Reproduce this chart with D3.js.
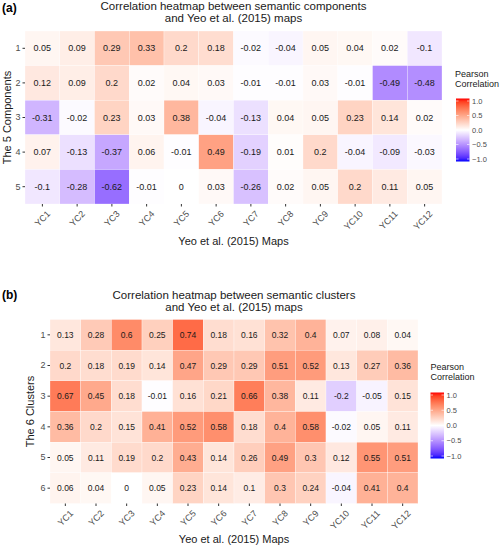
<!DOCTYPE html>
<html><head><meta charset="utf-8">
<script src="https://cdn.jsdelivr.net/npm/d3@7"></script>
<style>body{margin:0;background:#fff}svg{display:block;font-family:"Liberation Sans",Arial,sans-serif}</style>
</head><body>
<script>
const yeoMaps = ["YC1","YC2","YC3","YC4","YC5","YC6","YC7","YC8","YC9","YC10","YC11","YC12"];
const components = ["1","2","3","4","5"];
const clusters = ["1","2","3","4","5","6"];
const componentValues = [
  [0.05, 0.09, 0.29, 0.33, 0.2, 0.18, -0.02, -0.04, 0.05, 0.04, 0.02, -0.1],
  [0.12, 0.09, 0.2, 0.02, 0.04, 0.03, -0.01, -0.01, 0.03, -0.01, -0.49, -0.48],
  [-0.31, -0.02, 0.23, 0.03, 0.38, -0.04, -0.13, 0.04, 0.05, 0.23, 0.14, 0.02],
  [0.07, -0.13, -0.37, 0.06, -0.01, 0.49, -0.19, 0.01, 0.2, -0.04, -0.09, -0.03],
  [-0.1, -0.28, -0.62, -0.01, 0, 0.03, -0.26, 0.02, 0.05, 0.2, 0.11, 0.05]
];
const clusterValues = [
  [0.13, 0.28, 0.6, 0.25, 0.74, 0.18, 0.16, 0.32, 0.4, 0.07, 0.08, 0.04],
  [0.2, 0.18, 0.19, 0.14, 0.47, 0.29, 0.29, 0.51, 0.52, 0.13, 0.27, 0.36],
  [0.67, 0.45, 0.18, -0.01, 0.16, 0.21, 0.66, 0.38, 0.11, -0.2, -0.05, 0.15],
  [0.36, 0.2, 0.15, 0.41, 0.52, 0.58, 0.18, 0.4, 0.58, -0.02, 0.05, 0.11],
  [0.05, 0.11, 0.19, 0.2, 0.43, 0.14, 0.26, 0.49, 0.3, 0.12, 0.55, 0.51],
  [0.06, 0.04, 0, 0.05, 0.23, 0.14, 0.1, 0.3, 0.24, -0.04, 0.41, 0.4]
];
const legendTicks = [1.0, 0.5, 0.0, -0.5, -1.0];

const W = 500, H = 546;
const svg = d3.select("body").append("svg").attr("width", W).attr("height", H);
const color = d3.scaleLinear().domain([-1, 0, 1]).range(["blue", "white", "red"]).interpolate(d3.interpolateLab);

function panel(cfg) {
  const g = svg.append("g");
  const x = d3.scaleBand().domain(yeoMaps).range([cfg.x0, cfg.x1]);
  const y = d3.scaleBand().domain(cfg.rows).range([cfg.y0, cfg.y1]);
  const cells = [];
  cfg.values.forEach((row, i) => row.forEach((v, j) => cells.push({r: cfg.rows[i], c: yeoMaps[j], v})));
  g.selectAll("rect.cell").data(cells).enter().append("rect")
    .attr("x", d => x(d.c)).attr("y", d => y(d.r))
    .attr("width", x.bandwidth()).attr("height", y.bandwidth())
    .attr("fill", d => color(d.v)).attr("stroke", "#fff").attr("stroke-width", 0.3);
  g.selectAll("text.cell").data(cells).enter().append("text")
    .attr("x", d => x(d.c) + x.bandwidth() / 2).attr("y", d => y(d.r) + y.bandwidth() / 2)
    .attr("text-anchor", "middle").attr("dominant-baseline", "central")
    .attr("font-size", cfg.cellFont).attr("fill", "#1a1a1a").text(d => d.v);
  // y axis
  const ya = g.append("g").attr("transform", `translate(${cfg.x0},0)`)
    .call(d3.axisLeft(y).tickSize(2.5).tickPadding(2));
  ya.select(".domain").remove();
  ya.selectAll("line").attr("stroke", "#333");
  ya.selectAll("text").attr("font-size", 9).attr("fill", "#4d4d4d").attr("font-family", "Liberation Sans, Arial, sans-serif");
  // x axis
  const xa = g.append("g").attr("transform", `translate(0,${cfg.y1})`)
    .call(d3.axisBottom(x).tickSize(2.5).tickPadding(2));
  xa.select(".domain").remove();
  xa.selectAll("line").attr("stroke", "#333");
  xa.selectAll("text").attr("font-size", 9).attr("fill", "#4d4d4d").attr("font-family", "Liberation Sans, Arial, sans-serif")
    .attr("text-anchor", "end").attr("dy", null).attr("y", 0)
    .attr("transform", "translate(4,6) rotate(-45)").attr("dominant-baseline", "hanging");
  // titles
  const cx = (cfg.x0 + cfg.x1) / 2;
  g.append("text").attr("x", cx).attr("y", cfg.titleY).attr("text-anchor", "middle").attr("font-size", 11.5).attr("fill", "#1a1a1a").text(cfg.title1);
  g.append("text").attr("x", cx).attr("y", cfg.titleY + 11.5).attr("text-anchor", "middle").attr("font-size", 11.5).attr("fill", "#1a1a1a").text(cfg.title2);
  g.append("text").attr("x", 2).attr("y", cfg.labelY).attr("font-size", 12).attr("font-weight", "bold").text(cfg.label);
  g.append("text").attr("x", cx).attr("y", cfg.xTitleY).attr("text-anchor", "middle").attr("font-size", 11).attr("fill", "#1a1a1a").text("Yeo et al. (2015) Maps");
  g.append("text").attr("transform", `translate(${cfg.yTitleX},${(cfg.y0 + cfg.y1) / 2}) rotate(-90)`)
    .attr("text-anchor", "middle").attr("font-size", 11).attr("fill", "#1a1a1a").text(cfg.yTitle);
  // legend
  const lg = g.append("g");
  lg.append("text").attr("x", cfg.lx).attr("y", cfg.ly).attr("font-size", 9).attr("fill", "#1a1a1a").text("Pearson");
  lg.append("text").attr("x", cfg.lx).attr("y", cfg.ly + 10.5).attr("font-size", 9).attr("fill", "#1a1a1a").text("Correlation");
  const gid = "grad" + cfg.label.replace(/\W/g, "");
  const grad = svg.append("defs").append("linearGradient").attr("id", gid).attr("x1", 0).attr("y1", 1).attr("x2", 0).attr("y2", 0);
  d3.range(0, 1.0001, 0.05).forEach(t => grad.append("stop").attr("offset", t).attr("stop-color", color(-1 + 2 * t)));
  const ls = d3.scaleLinear().domain([-1, 1]).range([cfg.by1 - 2.5, cfg.by0 + 2.5]);
  const bw = 13.5;
  lg.append("rect").attr("x", cfg.bx).attr("y", cfg.by0).attr("width", bw).attr("height", cfg.by1 - cfg.by0).attr("fill", `url(#${gid})`);
  lg.selectAll("line.t").data(legendTicks).enter().append("line")
    .attr("x1", cfg.bx).attr("x2", cfg.bx + 2.5).attr("y1", d => ls(d)).attr("y2", d => ls(d)).attr("stroke", "#fff").attr("stroke-width", 0.6);
  lg.selectAll("line.t2").data(legendTicks).enter().append("line")
    .attr("x1", cfg.bx + bw - 2.5).attr("x2", cfg.bx + bw).attr("y1", d => ls(d)).attr("y2", d => ls(d)).attr("stroke", "#fff").attr("stroke-width", 0.6);
  lg.selectAll("text.t").data(legendTicks).enter().append("text")
    .attr("x", cfg.bx + bw + 2.5).attr("y", d => ls(d)).attr("dominant-baseline", "central")
    .attr("font-size", 7.5).attr("fill", "#4d4d4d").text(d => d3.format(".1f")(d));
}

panel({
  rows: components, values: componentValues,
  x0: 25, x1: 442, y0: 31, y1: 204, cellFont: 9,
  title1: "Correlation heatmap between semantic components", title2: "and Yeo et al. (2015) maps",
  titleY: 10, label: "(a)", labelY: 12, xTitleY: 245, yTitle: "The 5 Components", yTitleX: 11,
  lx: 455, ly: 76.5, bx: 456, by0: 98.5, by1: 161.5
});
panel({
  rows: clusters, values: clusterValues,
  x0: 50, x1: 418, y0: 319.5, y1: 503.5, cellFont: 8.5,
  title1: "Correlation heatmap between semantic clusters", title2: "and Yeo et al. (2015) maps",
  titleY: 299, label: "(b)", labelY: 299, xTitleY: 543, yTitle: "The 6 Clusters", yTitleX: 34,
  lx: 430.5, ly: 369.5, bx: 430.5, by0: 392.5, by1: 458.5
});
</script>
</body></html>
